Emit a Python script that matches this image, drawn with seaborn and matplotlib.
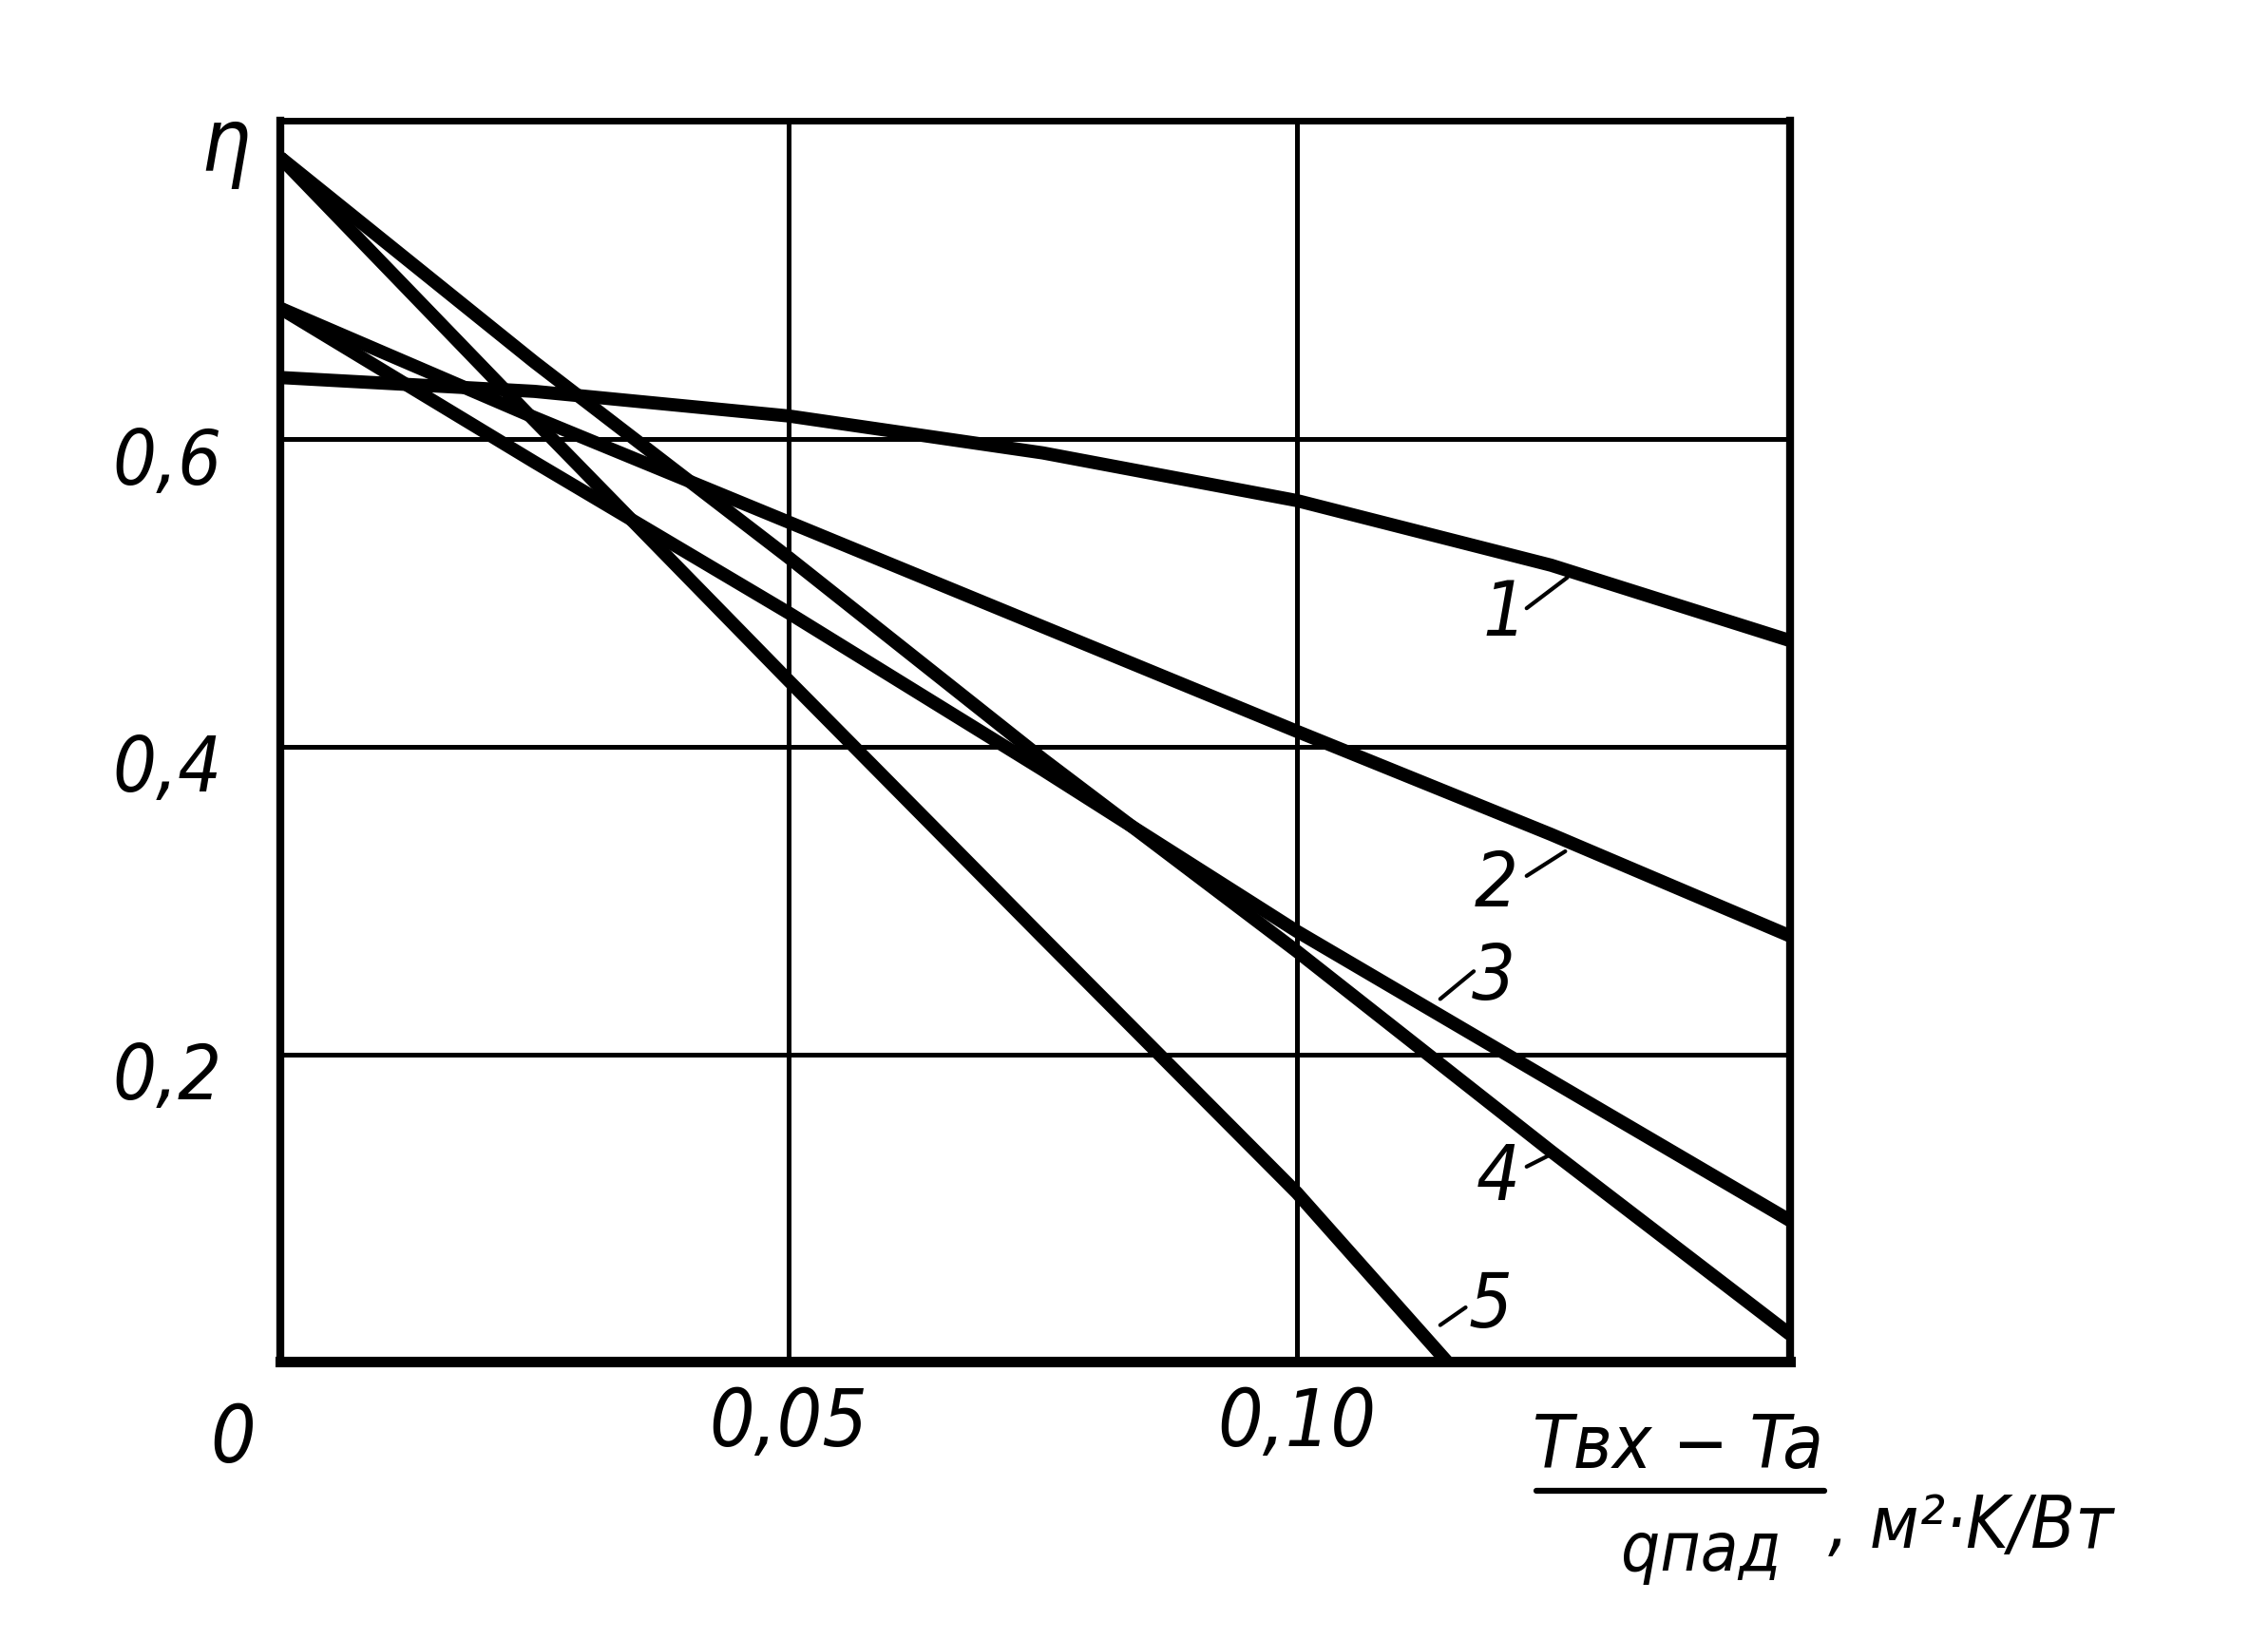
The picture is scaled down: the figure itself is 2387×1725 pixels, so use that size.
import matplotlib
matplotlib.use("Agg")
import matplotlib.pyplot as plt
import matplotlib.transforms as mtransforms
import seaborn as sns
import pandas as pd

# ---- data ----
x_common = [0.0, 0.025, 0.05, 0.075, 0.10, 0.125, 0.1485]
eta_1 = [0.640, 0.631, 0.615, 0.591, 0.560, 0.518, 0.469]
eta_2 = [0.685, 0.614, 0.546, 0.478, 0.410, 0.343, 0.277]
eta_3 = [0.685, 0.585, 0.487, 0.385, 0.280, 0.183, 0.092]
eta_4 = [0.783, 0.650, 0.523, 0.392, 0.267, 0.137, 0.018]
x_5 = [0.0, 0.025, 0.05, 0.075, 0.10, 0.1148]
eta_5 = [0.783, 0.612, 0.443, 0.276, 0.110, 0.0]

curve_names = ["1", "2", "3", "4", "5"]
x_ticks = [0.05, 0.10]
x_tick_labels = ["0,05", "0,10"]
y_ticks = [0.2, 0.4, 0.6]
y_tick_labels = ["0,2", "0,4", "0,6"]

# label positions (text) and leader lines (data coords)
label_text_pos = {"1": (0.1204, 0.486), "2": (0.1196, 0.310), "3": (0.1193, 0.249),
                  "4": (0.1198, 0.119), "5": (0.1190, 0.036)}
leader_x = {"1": [0.1226, 0.1266], "2": [0.1226, 0.1264], "3": [0.1174, 0.1141],
            "4": [0.1226, 0.1253], "5": [0.1166, 0.1141]}
leader_y = {"1": [0.490, 0.510], "2": [0.316, 0.332], "3": [0.254, 0.236],
            "4": [0.127, 0.136], "5": [0.0355, 0.024]}

frames = []
for name, xs, ys in zip(curve_names,
                        [x_common, x_common, x_common, x_common, x_5],
                        [eta_1, eta_2, eta_3, eta_4, eta_5]):
    frames.append(pd.DataFrame({"x": xs, "eta": ys, "curve": name}))
df = pd.concat(frames, ignore_index=True)

sns.set_theme(style="white")
plt.rcParams['font.family'] = ['DejaVu Sans']
plt.rcParams['font.stretch'] = 'condensed'
plt.rcParams['text.color'] = 'black'
plt.rcParams['axes.labelcolor'] = 'black'
plt.rcParams['xtick.color'] = 'black'
plt.rcParams['ytick.color'] = 'black'

fig = plt.figure(figsize=(23.87, 17.25), dpi=100)
ax = fig.add_axes([0.1236, 0.1690, 0.6656, 0.7574])

sns.lineplot(data=df, x="x", y="eta", hue="curve", palette=["black"] * 5,
             estimator=None, sort=False, legend=False, ax=ax)
for ln in ax.lines:
    ln.set_linewidth(10.0)
    ln.set_solid_capstyle('butt')
    ln.set_solid_joinstyle('round')

ax.set_xlim(0, 0.1485)
ax.set_ylim(0, 0.807)
ax.set_xticks(x_ticks)
ax.set_xticklabels(x_tick_labels)
ax.set_yticks(y_ticks)
ax.set_yticklabels(y_tick_labels)
ax.tick_params(axis='both', length=0, colors='black', labelcolor='black')
ax.tick_params(axis='x', pad=18, labelsize=60)
ax.tick_params(axis='y', pad=44, labelsize=58)
for lab in ax.get_xticklabels() + ax.get_yticklabels():
    lab.set_fontstyle('italic')
    lab.set_fontstretch('condensed')
shift = mtransforms.ScaledTranslation(0, -0.17, fig.dpi_scale_trans)
for lab in ax.get_yticklabels():
    lab.set_transform(lab.get_transform() + shift)
ax.grid(True, color='black', linewidth=3.6)
ax.set_xlabel("")
ax.set_ylabel("")
for side, lw in [("left", 6.0), ("right", 6.0), ("top", 5.0), ("bottom", 8.0)]:
    ax.spines[side].set_visible(True)
    ax.spines[side].set_color('black')
    ax.spines[side].set_linewidth(lw)

for name in curve_names:
    ax.plot(leader_x[name], leader_y[name], color='black', linewidth=3.0)
    tx, ty = label_text_pos[name]
    ax.text(tx, ty, name, fontsize=58, fontstyle='italic', ha='center', va='center',
            color='black')

# axis titles
fig.text(0.0994, 0.911, "η", fontsize=66, fontstyle='italic', ha='center', va='center')
fig.text(0.1026, 0.1216, "0", fontsize=60, fontstyle='italic', ha='center', va='center')
fig.text(0.740, 0.117, "Tвх − Ta", fontsize=56, fontstyle='italic', ha='center', va='center')
fig.add_artist(plt.Line2D([0.6776, 0.8045], [0.0905, 0.0905], color='black', linewidth=4.5,
                          transform=fig.transFigure))
fig.text(0.750, 0.053, "qпад", fontsize=52, fontstyle='italic', ha='center', va='center')
fig.text(0.806, 0.068, ", м²·K/Вт", fontsize=55, fontstyle='italic', ha='left', va='center')

fig.savefig("out.png", dpi=100, facecolor='white')
